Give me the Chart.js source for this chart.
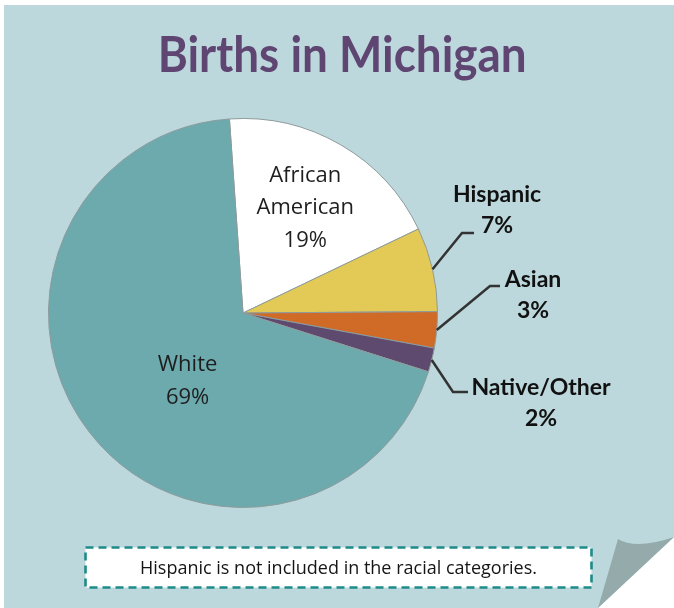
<!DOCTYPE html>
<html>
<head>
<meta charset="utf-8">
<title>Births in Michigan</title>
<script src="https://cdn.jsdelivr.net/npm/chart.js@4.4.0/dist/chart.umd.min.js"></script>
<style>
  html, body { margin: 0; padding: 0; background: #fff; }
  #page { position: relative; width: 674px; height: 608px; overflow: hidden; }
  #card { position: absolute; left: 4px; top: 5px; width: 670px; height: 603px; background: #bcd8dc; }
  #deco { position: absolute; left: 0; top: 0; }
  #pie { position: absolute; left: 0; top: 0; }
  #title { position: absolute; left: 0; top: 28px; width: 684px; text-align: center;
           font: 700 49px/50px Lato, sans-serif; color: #5f4672; white-space: nowrap; }
  #title span { display: inline-block; transform-origin: center; }
  #note { position: absolute; left: 84px; top: 546px; width: 509px; height: 42px;
          font: 18px/43px "Open Sans", sans-serif; text-align: center; color: #151515; }
</style>
</head>
<body>
<div id="page">
  <div id="card"></div>
  <svg id="deco" width="674" height="608">
    <!-- curled corner -->
    <polygon points="598,608 674,537 674,608" fill="#ffffff"/>
    <path d="M598,608 L618,539 Q636,550 674,537 Z" fill="#95abab"/>
    <!-- footnote box -->
    <rect x="85.5" y="547.5" width="506" height="40" fill="#ffffff" stroke="#1d8b88"
          stroke-width="2.6" stroke-dasharray="8 5"/>
  </svg>
  <canvas id="pie" width="674" height="608"></canvas>
  <div id="title"><span id="titleText">Births in Michigan</span></div>
  <div id="note"><span id="noteText">Hispanic is not included in the racial categories.</span></div>
</div>

<script>
// data
var categories = ['African American', 'Hispanic', 'Asian', 'Native/Other', 'White'];
var shares = [19, 7, 3, 2, 69];

var sliceColors = ['#ffffff', '#e3c955', '#cf6a27', '#5f4a6f', '#6caaae'];

// where each label sits (inside ones are offsets from the centre in radius units)
var labelLayout = [
  { inside: true, wrap: true, dx: 0.32, dy: -0.54 },
  { elbow: [462, 233], end: [474, 233], tx: 497, ty: 195 },
  { elbow: [490, 286], end: [500, 286], tx: 533, ty: 280 },
  { elbow: [453, 392], end: [468, 392], tx: 541, ty: 388 },
  { inside: true, dx: -0.285, dy: 0.35 }
];

// squeeze the title to the width used in the poster
var t = document.getElementById('titleText');
t.style.transform = 'scaleX(' + (369 / t.getBoundingClientRect().width) + ')';

var sliceLabels = {
  id: 'sliceLabels',
  afterDatasetsDraw: function(chart) {
    var ctx = chart.ctx;
    var arcs = chart.getDatasetMeta(0).data;
    arcs.forEach(function(arc, i) {
      var p = arc.getProps(['x', 'y', 'startAngle', 'endAngle', 'outerRadius'], true);
      var lay = labelLayout[i];
      var lines = lay.wrap ? categories[i].split(' ') : [categories[i]];
      lines.push(shares[i] + '%');
      ctx.save();
      ctx.textAlign = 'center';
      ctx.textBaseline = 'middle';
      if (lay.inside) {
        ctx.font = '22px "Open Sans"';
        ctx.fillStyle = '#1e1e1e';
        var cx = p.x + lay.dx * p.outerRadius;
        var cy = p.y + lay.dy * p.outerRadius;
        var lh = 32.5;
        var y0 = cy - (lines.length - 1) * lh / 2;
        lines.forEach(function(s, k) { ctx.fillText(s, cx, y0 + k * lh); });
      } else {
        var mid = (p.startAngle + p.endAngle) / 2;
        var sx = p.x + Math.cos(mid) * p.outerRadius;
        var sy = p.y + Math.sin(mid) * p.outerRadius;
        ctx.strokeStyle = '#333';
        ctx.lineWidth = 2.5;
        ctx.beginPath();
        ctx.moveTo(sx, sy);
        ctx.lineTo(lay.elbow[0], lay.elbow[1]);
        ctx.lineTo(lay.end[0], lay.end[1]);
        ctx.stroke();
        ctx.font = 'bold 23px Lato';
        ctx.fillStyle = '#111';
        lines.forEach(function(s, k) { ctx.fillText(s, lay.tx, lay.ty + k * 31); });
      }
      ctx.restore();
    });
  }
};

new Chart(document.getElementById('pie'), {
  type: 'pie',
  data: {
    labels: categories,
    datasets: [{
      data: shares,
      backgroundColor: sliceColors,
      borderColor: '#8e9b9c',
      borderWidth: 1
    }]
  },
  options: {
    responsive: false,
    animation: false,
    rotation: -4,
    layout: { padding: { left: 48, top: 118, right: 236, bottom: 100 } },
    plugins: {
      legend: { display: false },
      tooltip: { enabled: false }
    }
  },
  plugins: [sliceLabels]
});
</script>
</body>
</html>
